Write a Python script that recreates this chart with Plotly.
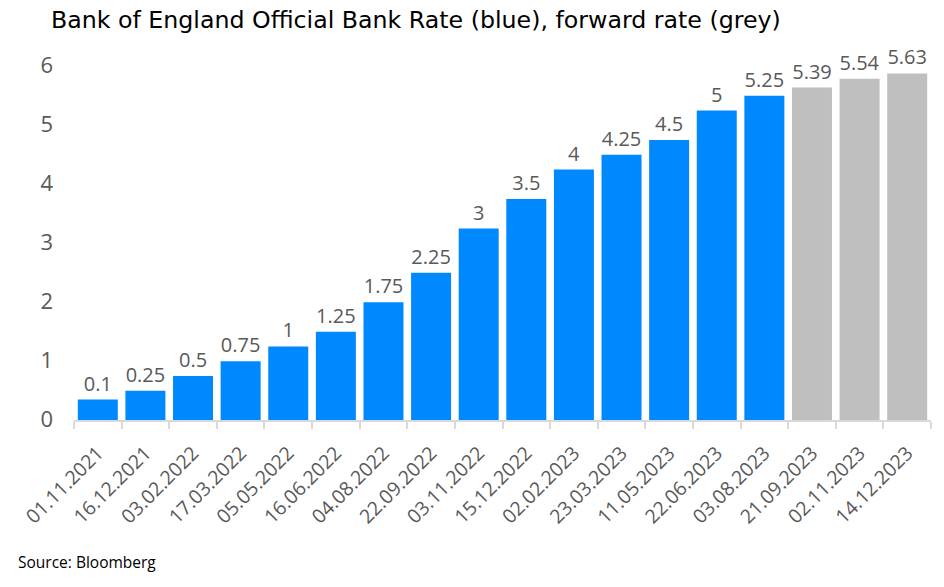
import plotly.graph_objects as go

dates = ["01.11.2021", "16.12.2021", "03.02.2022", "17.03.2022", "05.05.2022",
         "16.06.2022", "04.08.2022", "22.09.2022", "03.11.2022", "15.12.2022",
         "02.02.2023", "23.03.2023", "11.05.2023", "22.06.2023", "03.08.2023",
         "21.09.2023", "02.11.2023", "14.12.2023"]
rates = [0.1, 0.25, 0.5, 0.75, 1, 1.25, 1.75, 2.25, 3, 3.5, 4, 4.25, 4.5, 5, 5.25,
         5.39, 5.54, 5.63]
is_forward = [False] * 15 + [True] * 3
y_ticks = [0, 1, 2, 3, 4, 5, 6]

BLUE = "#0088FF"
GREY = "#BFBFBF"
BASE = -0.247
FONT = "Open Sans"

colors = [GREY if f else BLUE for f in is_forward]
labels = [f"{v:g}" for v in rates]

fig = go.Figure(go.Bar(
    x=dates, y=[v - BASE for v in rates], base=BASE,
    marker=dict(color=colors, line=dict(width=0)),
    text=labels, textposition="outside", cliponaxis=False,
    textfont=dict(color="#595959", size=20, family=FONT),
    hoverinfo="skip",
))

fig.update_layout(
    width=944, height=587,
    margin=dict(l=74, r=13, t=28, b=167),
    paper_bgcolor="white", plot_bgcolor="white",
    bargap=0.16,
    showlegend=False,
    font=dict(family=FONT, color="#595959"),
    title=dict(text="Bank of England Official Bank Rate (blue), forward rate (grey)",
               x=0.054, xanchor="left", y=0.966, yanchor="middle", yref="container",
               font=dict(size=23.7, color="#000000", family="DejaVu Sans")),
)
fig.update_xaxes(
    type="category", tickangle=-45, tickson="boundaries",
    ticks="outside", ticklen=7, tickcolor="#D9D9D9", tickwidth=2,
    showline=True, linecolor="#D9D9D9", linewidth=2,
    tickfont=dict(size=19.5, color="#595959", family=FONT),
    ticklabelstandoff=12,
    showgrid=False,
)
fig.update_yaxes(
    range=[BASE, 6.4], tickvals=y_ticks, ticktext=[str(t) for t in y_ticks],
    showgrid=False, zeroline=False, showline=False, ticks="",
    ticklabelshift=14, ticklabelstandoff=20,
    tickfont=dict(size=22, color="#595959", family=FONT),
)
fig.add_annotation(text="Source: Bloomberg", xref="paper", yref="paper",
                   x=-0.068, y=-0.362, xanchor="left", yanchor="middle",
                   showarrow=False, font=dict(size=15.5, color="#000000", family=FONT))

fig.write_html("out.html")
